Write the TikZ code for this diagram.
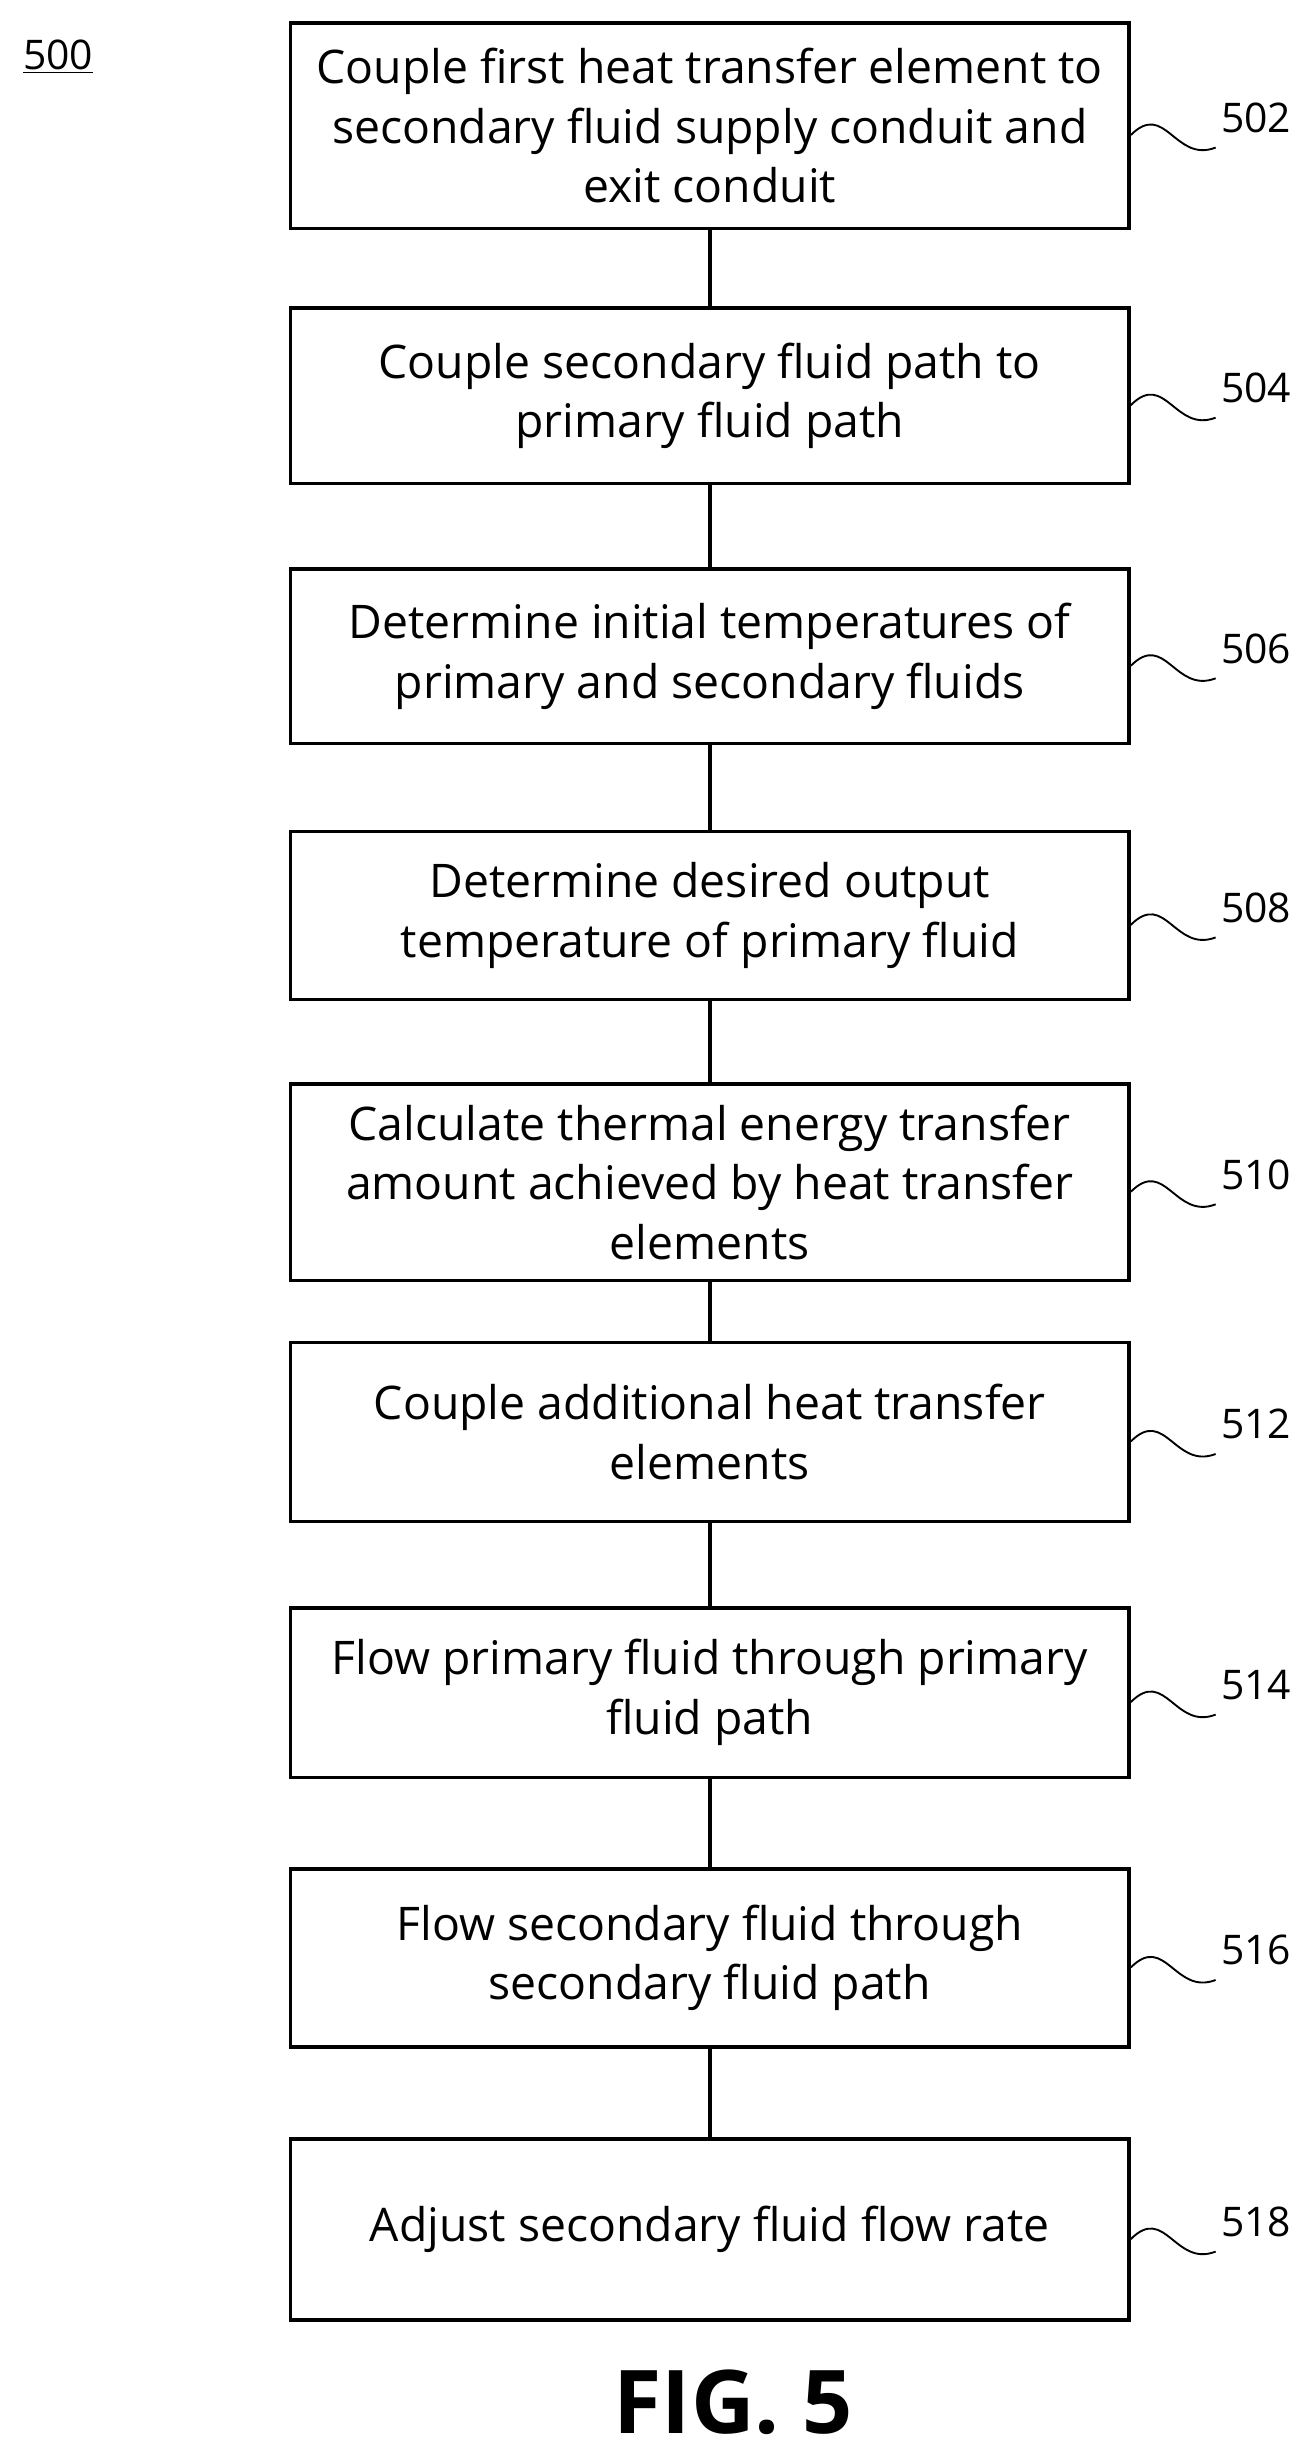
\documentclass[tikz,border=0pt]{standalone}
\usepackage{fontspec}
\setmainfont{Open Sans}
\begin{document}
\begin{tikzpicture}[x=1pt,y=-1pt,
  stepbox/.style={draw,line width=2.4pt,minimum width=534pt,align=center,font=\fontsize{29.5}{38}\selectfont,inner sep=0pt},
  lab/.style={font=\fontsize{26}{30}\selectfont,anchor=west},
  conn/.style={line width=2.4pt}]
\useasboundingbox (0,0) rectangle (838,1568);
\node[font=\fontsize{26}{30}\selectfont] (n500) at (37,36) {\underline{500}};
\def\mk#1#2#3#4{%
  \node[stepbox,minimum height=#3pt] (b#1) at (452,#2) {#4};
  \coordinate (s#1) at ([yshift=-6pt]b#1.east);
  \coordinate (e#1) at ([xshift=54pt,yshift=-14pt]b#1.east);
  \draw[line width=1.2pt] (s#1) .. controls ++(22,-22) and ++(-26,10) .. (e#1);
  \node[lab] (l#1) at ([xshift=54pt,yshift=5pt]b#1.east) {#1};}
\mk{502}{80}{131}{Couple first heat transfer element to\\secondary fluid supply conduit and\\exit conduit}
\mk{504}{252}{112}{Couple secondary fluid path to\\primary fluid path}
\mk{506}{418}{111}{Determine initial temperatures of\\primary and secondary fluids}
\mk{508}{583}{107}{Determine desired output\\temperature of primary fluid}
\mk{510}{753}{125}{Calculate thermal energy transfer\\amount achieved by heat transfer\\elements}
\mk{512}{912}{114}{Couple additional heat transfer\\elements}
\mk{514}{1078}{108}{Flow primary fluid through primary\\fluid path}
\mk{516}{1247}{113}{Flow secondary fluid through\\secondary fluid path}
\mk{518}{1420}{115}{Adjust secondary fluid flow rate}
\foreach \a/\b in {502/504,504/506,506/508,508/510,510/512,512/514,514/516,516/518}
  \draw[conn] (b\a.south) -- (b\b.north);
\node[font=\fontsize{56}{64}\selectfont\bfseries] (fig) at (467,1530) {FIG. 5};
\end{tikzpicture}
\end{document}
